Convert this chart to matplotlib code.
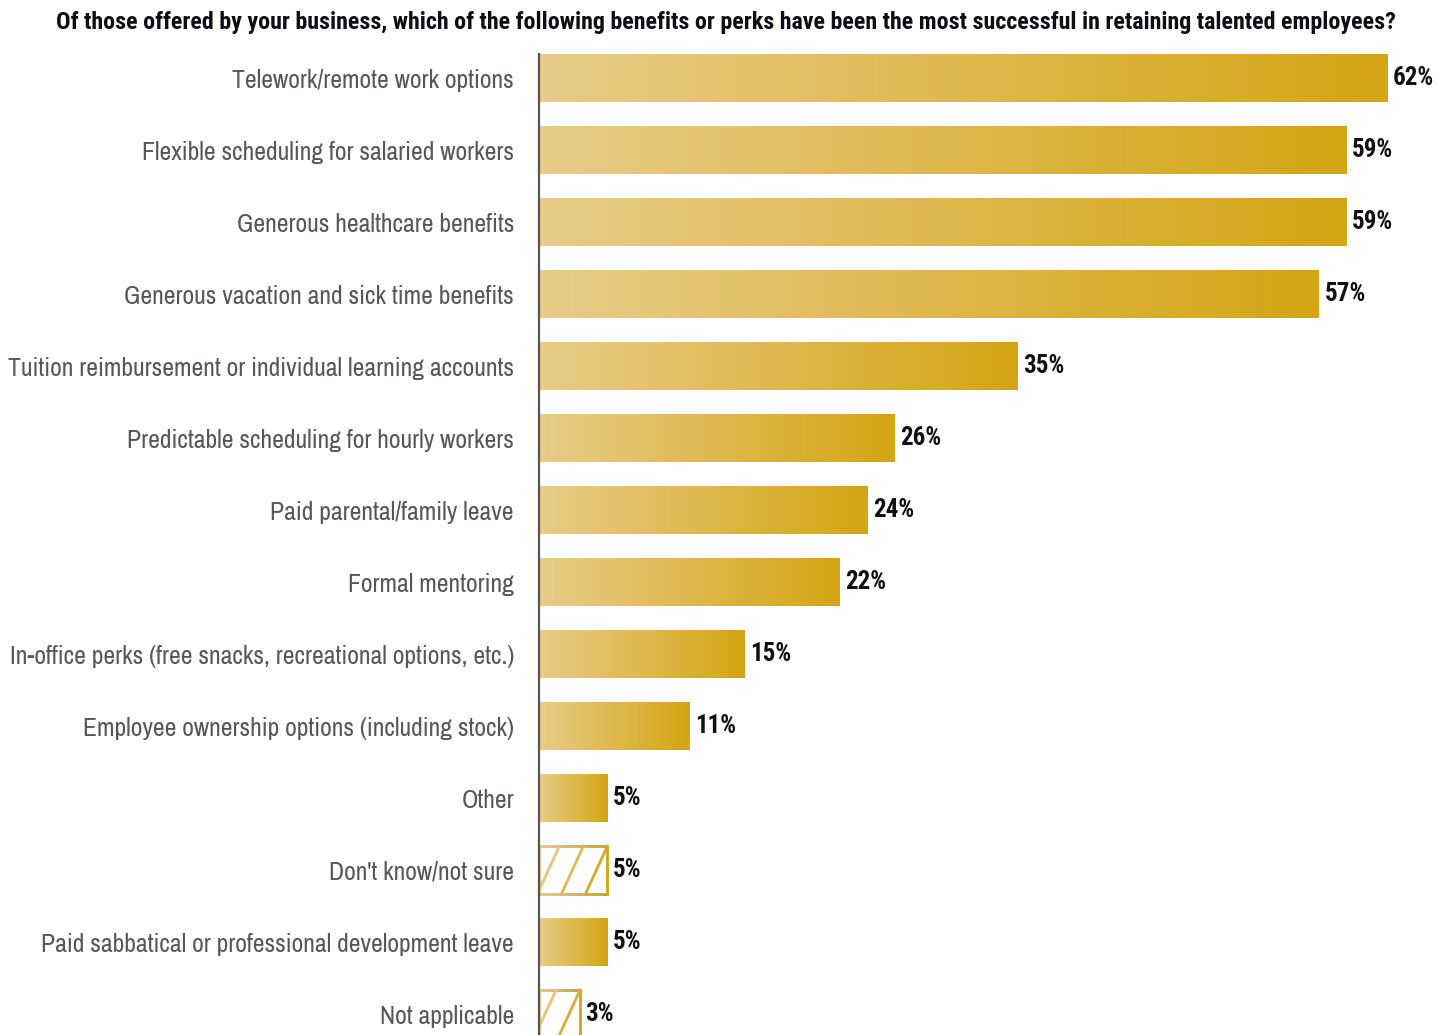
import numpy as np
import matplotlib
matplotlib.use("Agg")
import matplotlib.pyplot as plt
from matplotlib.colors import LinearSegmentedColormap
from matplotlib.collections import LineCollection
from matplotlib.patches import Rectangle

title = ("Of those offered by your business, which of the following benefits or perks "
         "have been the most successful in retaining talented employees?")
categories = [
    "Telework/remote work options",
    "Flexible scheduling for salaried workers",
    "Generous healthcare benefits",
    "Generous vacation and sick time benefits",
    "Tuition reimbursement or individual learning accounts",
    "Predictable scheduling for hourly workers",
    "Paid parental/family leave",
    "Formal mentoring",
    "In-office perks (free snacks, recreational options, etc.)",
    "Employee ownership options (including stock)",
    "Other",
    "Don't know/not sure",
    "Paid sabbatical or professional development leave",
    "Not applicable",
]
values = [62, 59, 59, 57, 35, 26, 24, 22, 15, 11, 5, 5, 5, 3]
hatched = [False] * 11 + [True, False, True]

label_font = ["Archivo Narrow", "DejaVu Sans"]
bold_font = ["Roboto Condensed", "DejaVu Sans"]

light, gold = "#E8CC88", "#D4A514"
cmap = LinearSegmentedColormap.from_list("goldfade", [light, gold])
grad = np.linspace(0, 1, 256).reshape(1, -1)

W, H = 1443, 1035
fig = plt.figure(figsize=(W / 100, H / 100), dpi=100)
x0_px, top_px = 539, 54
ax = fig.add_axes([x0_px / W, 0, (W - 3 - x0_px) / W, 1 - top_px / H])

px_per_unit = 13.68
xmax = (W - 3 - x0_px) / px_per_unit
bh = 48 / 72.0
pitch_px = 72.0

for i, (v, h) in enumerate(zip(values, hatched)):
    y0, y1 = i - bh / 2, i + bh / 2
    if not h:
        ax.imshow(grad, cmap=cmap, extent=[0, v, y1, y0], aspect="auto",
                  interpolation="bilinear", zorder=2)
        continue
    # outline drawn as short pieces so it follows the colour fade
    n = 30
    xs = np.linspace(0, v, n + 1)
    segs, cols = [], []
    for a, b in zip(xs[:-1], xs[1:]):
        c = cmap((a + b) / 2 / v)
        segs += [[(a, y0), (b, y0)], [(a, y1), (b, y1)]]
        cols += [c, c]
    segs += [[(0, y0), (0, y1)], [(v, y0), (v, y1)]]
    cols += [cmap(0.0), cmap(1.0)]
    # diagonal hatch anchored at the top right corner
    step = 24 / px_per_unit
    slant = 22 / px_per_unit
    k = 0
    while v - k * step > 0:
        xt = v - k * step
        xb = xt - slant
        segs.append([(xb, y1), (xt, y0)])
        cols.append(cmap(max(0.0, (xt + xb) / 2 / v)))
        k += 1
    lc = LineCollection(segs, colors=cols, linewidths=2.0, zorder=2, capstyle="projecting")
    clip = Rectangle((0, y0), v, bh, transform=ax.transData, facecolor="none", edgecolor="none")
    ax.add_patch(clip)
    lc.set_clip_path(clip)
    ax.add_collection(lc)

for i, v in enumerate(values):
    ax.annotate(f"{v}%", xy=(v, i), xytext=(4, 0), textcoords="offset points",
                ha="left", va="center", fontsize=18, fontweight="bold",
                family=bold_font, color="#111111", zorder=3)

ax.set_xlim(0, xmax)
ax.set_ylim((H - 78) / pitch_px, -bh / 2)
ax.set_yticks(range(len(categories)))
ax.set_yticklabels(categories, family=label_font, fontsize=18.5, color="#555855")
ax.tick_params(axis="y", length=0, pad=18)
ax.set_xticks([])
for s in ["top", "right", "bottom"]:
    ax.spines[s].set_visible(False)
ax.spines["left"].set_color("#555555")
ax.spines["left"].set_linewidth(1.6)
ax.spines["left"].set_zorder(4)

fig.text(726 / W, 1 - 22 / H, title, ha="center", va="center", fontsize=17.3,
         fontweight="bold", family=bold_font, color="#0d0d14")

fig.savefig("out.png", dpi=100)
